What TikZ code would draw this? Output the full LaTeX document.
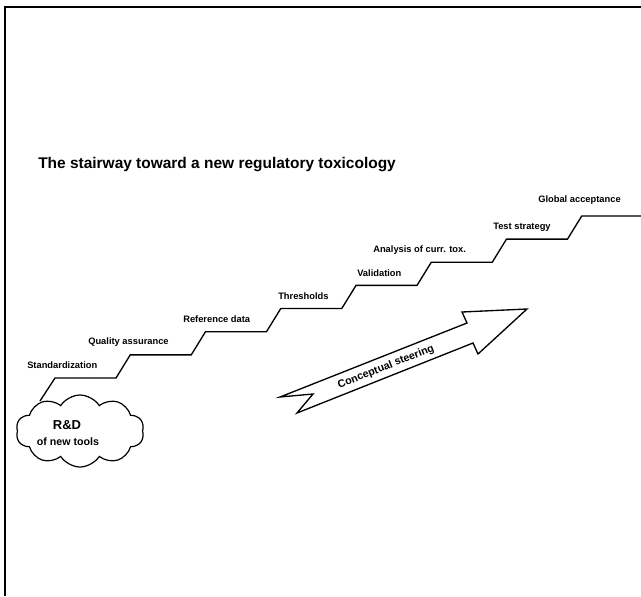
\documentclass[tikz,border=0pt]{standalone}
\usepackage{fontspec}
\setmainfont{Liberation Sans}
\usepackage{tikz}
\usetikzlibrary{shapes.symbols,positioning}

\tikzset{
  stair/.style={line width=1pt, line join=miter},
  steplabel/.style={anchor=west, inner sep=0pt, font=\fontsize{7}{8}\selectfont\bfseries},
  frame/.style={line width=0.9pt},
}

\begin{document}
\begin{tikzpicture}[x=0.75pt,y=-0.75pt]
  \useasboundingbox (0,0) rectangle (641,596);
  % frame (top and left only)
  \draw[frame] (5,596) -- (5,7) -- (641,7);

  \node[anchor=west, inner sep=0pt, font=\fontsize{11.6}{14}\selectfont\bfseries] (title) at (38,165)
    {The stairway toward a new regulatory toxicology};

  % R&D cloud
  \node[cloud, draw, line width=0.9pt, cloud puffs=10, cloud puff arc=115, aspect=1.8,
        minimum width=96pt, minimum height=54pt, inner sep=0pt] (cloud) at (80,431) {};
  \node[font=\fontsize{9.75}{11}\selectfont\bfseries, inner sep=0pt] (rd) at (67,425) {R\&D};
  \node[font=\fontsize{8}{9}\selectfont\bfseries, inner sep=0pt] (rdtools) at (68,442) {of new tools};

  % the stairs
  \coordinate (s0) at (40,401);
  \draw[stair] (s0) -- (55,378)
    foreach \i in {1,...,7} { -- ++(61,0) -- ++(14.25,-23.15) } -- (641,216);

  \node[steplabel] (std) at (27,365) {Standardization};
  \node[steplabel] (qa) at (88,342) {Quality assurance};
  \node[steplabel] (ref) at (183,319) {Reference data};
  \node[steplabel] (thr) at (278,296) {Thresholds};
  \node[steplabel] (val) at (357,273) {Validation};
  \node[steplabel] (ana) at (373,250) {Analysis of curr. tox.};
  \node[steplabel] (test) at (493,227) {Test strategy};
  \node[steplabel] (glob) at (538,200) {Global acceptance};

  % big arrow
  \draw[line width=1pt, line join=miter, fill=white]
    (527,309) -- (462,312) -- (467,323) -- (280,397) -- (313,394)
    -- (297,413) -- (473,343) -- (478,354) -- cycle;
  \node[rotate=21.6, inner sep=0pt, font=\fontsize{8}{9}\selectfont\bfseries] (steer) at (386,367)
    {Conceptual steering};
\end{tikzpicture}
\end{document}
